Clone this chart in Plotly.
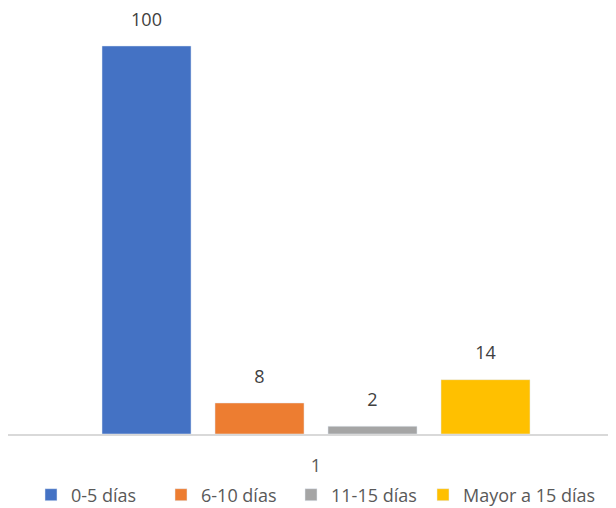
import plotly.graph_objects as go

categories = ["1"]
series_names = ["0-5 días", "6-10 días", "11-15 días", "Mayor a 15 días"]
series_values = [[100], [8], [2], [14]]
colors = ["#4472C4", "#ED7D31", "#A5A5A5", "#FFC000"]
legend_groups = ["legend", "legend", "legend", "legend2"]

FONT = "Open Sans, Lato, sans-serif"

fig = go.Figure()
for name, vals, col, lg in zip(series_names, series_values, colors, legend_groups):
    fig.add_trace(go.Bar(
        x=categories, y=vals, name=name, marker_color=col, legend=lg,
        text=[f"<span style='font-size:18px'>{v}</span><br> " for v in vals],
        textposition="outside",
        textfont=dict(size=11, color="#404040", family=FONT),
        cliponaxis=False,
    ))

LEG_Y = -0.1466
fig.update_layout(
    width=608, height=500,
    margin=dict(l=0, r=0, t=10, b=74, autoexpand=False),
    paper_bgcolor="white", plot_bgcolor="white",
    barmode="group", bargap=0.2566, bargroupgap=0.212,
    font=dict(family=FONT, color="#595959", size=17),
    showlegend=True,
    legend=dict(orientation="h", x=23 / 608, xanchor="left", y=LEG_Y, yanchor="middle",
                font=dict(size=18, color="#595959"), itemwidth=30,
                entrywidth=85, entrywidthmode="pixels", traceorder="normal"),
    legend2=dict(orientation="h", x=415 / 608, xanchor="left", y=LEG_Y, yanchor="middle",
                 font=dict(size=18, color="#595959"), itemwidth=30, traceorder="normal"),
    xaxis=dict(type="category", range=[-0.5066, 0.4934], showline=True,
               linecolor="#D9D9D9", linewidth=1.5, ticks="", showgrid=False,
               tickfont=dict(size=18, color="#595959"), ticklabelstandoff=15),
    yaxis=dict(range=[0, 107.2], visible=False, showgrid=False),
)

fig.write_html("out.html")
